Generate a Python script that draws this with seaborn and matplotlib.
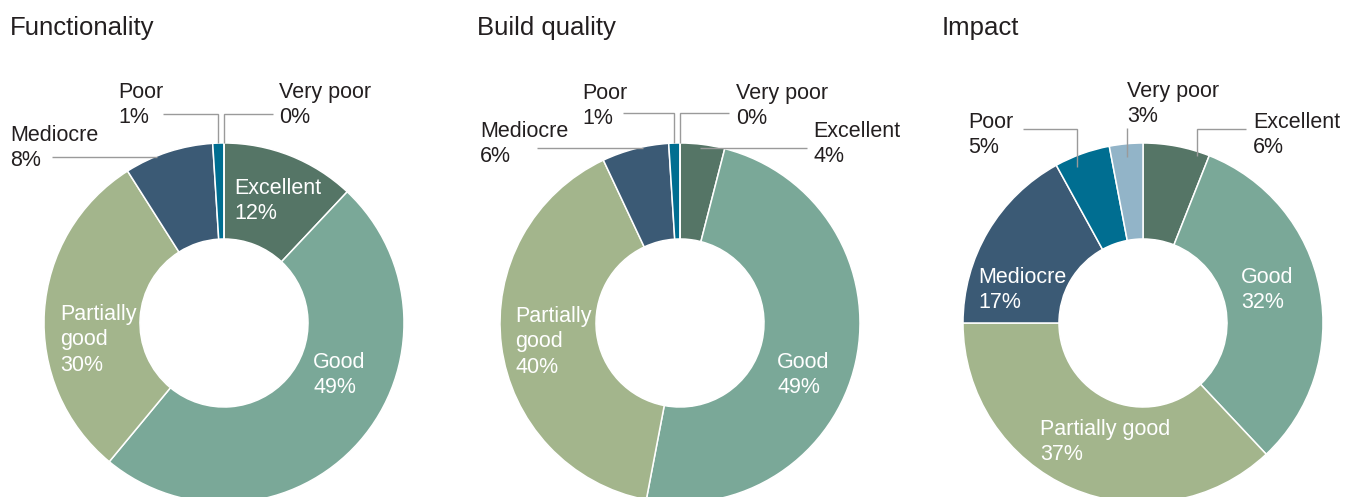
import numpy as np
import matplotlib
matplotlib.use("Agg")
import matplotlib.pyplot as plt
import seaborn as sns

# Survey ratings, listed clockwise from 12 o'clock
categories = ["Excellent", "Good", "Partially good", "Mediocre", "Poor", "Very poor"]
titles = ["Functionality", "Build quality", "Impact"]
functionality = [12, 49, 30, 8, 1, 0]
build_quality = [4, 49, 40, 6, 1, 0]
impact = [6, 32, 37, 17, 5, 3]
series = [functionality, build_quality, impact]

palette = ["#557566", "#7aa898", "#a3b58c", "#3b5a75", "#006e91", "#92b4c8"]

sns.set_theme(style="white")
plt.rcParams["font.family"] = ["Liberation Sans", "DejaVu Sans"]

W, H = 1357, 497
fig = plt.figure(figsize=(W / 100, H / 100), dpi=100)
ax = fig.add_axes([0, 0, 1, 1])

R_OUT, RING = 180, 96
centers = [(224, 323), (680, 323), (1143, 323)]  # pixel positions, y measured from top
title_x = [10, 477, 942]

TEXT = "#231f20"
LEADER = "#9a9a9a"
LS = 1.28
FS = 15.5


def up(y):
    return H - y


# inner (white) labels: chart index -> {category: (x, cap_top, text_name)}
inner = [
    {"Excellent": (234, 178, "Excellent"), "Good": (313, 352, "Good"),
     "Partially good": (60, 304, "Partially\ngood")},
    {"Partially good": (515, 306, "Partially\ngood"), "Good": (777, 352, "Good")},
    {"Mediocre": (978, 267, "Mediocre"), "Good": (1241, 267, "Good"),
     "Partially good": (1040, 419, "Partially good")},
]

# outer labels: (x, cap_top, leader y, leader start x or None, position in wedge, anchor radius)
outer = [
    {"Poor": (118, 82, 114, 163, 0.5, 180), "Very poor": (279, 82, 114, 273, 0.5, 180),
     "Mediocre": (10, 125, 157, 52, 0.36, 179)},
    {"Poor": (582, 83, 113, 623, 0.5, 180), "Very poor": (736, 83, 113, 729, 0.5, 180),
     "Mediocre": (480, 121, 148, 537, 0.62, 179), "Excellent": (813, 121, 148, 807, 0.45, 176)},
    {"Poor": (968, 112, 129, 1023, 0.32, 169), "Very poor": (1127, 81, 128, None, 0.5, 167),
     "Excellent": (1253, 112, 129, 1246, 0.83, 175)},
]

for i, vals in enumerate(series):
    cx, cy = centers[i]
    ax.pie(vals, colors=palette, startangle=90, counterclock=False,
           radius=R_OUT, center=(cx, up(cy)),
           wedgeprops=dict(width=RING, edgecolor="white", linewidth=1.1))

    ax.text(title_x[i], up(16), titles[i], fontsize=18.5, color=TEXT, va="top", ha="left")

    total = float(sum(vals))
    cum = np.concatenate([[0], np.cumsum(vals)]) / total
    for j, cat in enumerate(categories):
        if cat in inner[i]:
            x, y, name = inner[i][cat]
            ax.text(x, up(y), f"{name}\n{vals[j]}%", fontsize=FS, color="white",
                    va="top", ha="left", linespacing=LS)
        if cat in outer[i]:
            x, y, ly, sx, frac, r = outer[i][cat]
            ax.text(x, up(y), f"{cat}\n{vals[j]}%", fontsize=FS, color=TEXT,
                    va="top", ha="left", linespacing=LS)
            pos = cum[j] + frac * (cum[j + 1] - cum[j])
            a = 2 * np.pi * pos
            axp = cx + r * np.sin(a)
            ayp = up(cy) + r * np.cos(a)
            if sx is None:
                sx = axp
            ax.plot([sx, axp, axp], [up(ly), up(ly), ayp], color=LEADER, lw=1.0,
                    solid_capstyle="butt", solid_joinstyle="miter")

ax.set_xlim(0, W)
ax.set_ylim(0, H)
ax.set_aspect("equal")
ax.axis("off")

fig.savefig("out.png", dpi=100)
